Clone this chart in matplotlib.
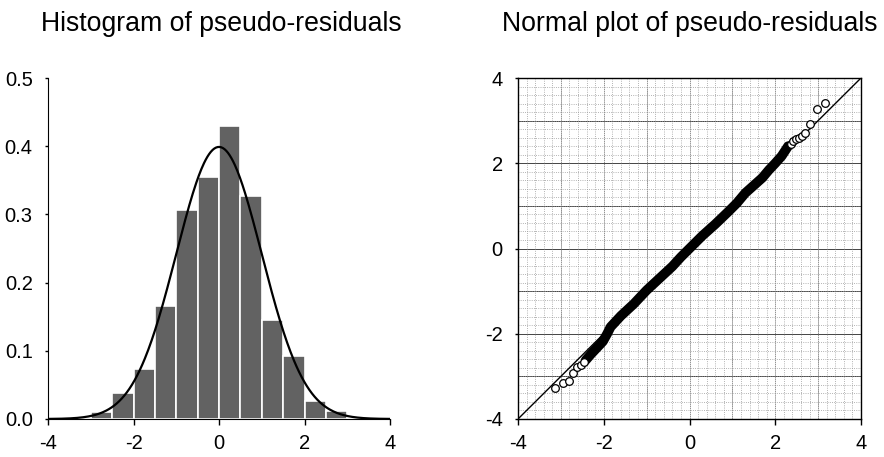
import numpy as np
import matplotlib
matplotlib.use("Agg")
import matplotlib.pyplot as plt
from matplotlib.ticker import MultipleLocator

plt.rcParams['font.family'] = ['Liberation Sans', 'DejaVu Sans']
plt.rcParams['axes.unicode_minus'] = False

# histogram of pseudo-residuals (density scale, bins of width 0.5)
bin_edges = [-3.0, -2.5, -2.0, -1.5, -1.0, -0.5, 0.0, 0.5, 1.0, 1.5, 2.0, 2.5, 3.0]
bin_heights = [0.010, 0.038, 0.073, 0.165, 0.307, 0.355, 0.430, 0.327, 0.145, 0.092, 0.026, 0.011]

# normal plot: dense central band of points
band_x = [-2.42, -2.3, -2.15, -2.02, -1.92, -1.84, -1.6, -1.3, -1.0, -0.7, -0.4, -0.2, 0.0,
          0.3, 0.6, 0.9, 1.1, 1.3, 1.5, 1.7, 1.85, 2.0, 2.15, 2.3]
band_y = [-2.62, -2.48, -2.32, -2.18, -2.0, -1.84, -1.58, -1.3, -0.98, -0.7, -0.42, -0.2, 0.0,
          0.3, 0.57, 0.86, 1.06, 1.3, 1.48, 1.66, 1.84, 2.0, 2.17, 2.4]

# normal plot: individual points visible in the tails
tail_x = [-3.14, -2.94, -2.80, -2.71, -2.63, -2.54, -2.47,
          2.36, 2.42, 2.48, 2.55, 2.62, 2.70, 2.82, 2.97, 3.16]
tail_y = [-3.28, -3.15, -3.12, -2.91, -2.79, -2.73, -2.66,
          2.46, 2.52, 2.56, 2.60, 2.64, 2.70, 2.92, 3.28, 3.42]

fig = plt.figure(figsize=(8.84, 4.57), dpi=100)
ax1 = fig.add_axes([48 / 884, 38 / 457, 342 / 884, 341 / 457])
ax2 = fig.add_axes([518 / 884, 38 / 457, 343 / 884, 341 / 457])

# left: histogram with fitted standard normal density
widths = np.diff(bin_edges)
ax1.bar(bin_edges[:-1], bin_heights, width=widths, align='edge',
        color='#626262', edgecolor='white', linewidth=1.2)
xs = np.linspace(-4, 4, 400)
ax1.plot(xs, np.exp(-xs ** 2 / 2) / np.sqrt(2 * np.pi), color='black', linewidth=1.6)
ax1.set_xlim(-4, 4)
ax1.set_ylim(0, 0.5)
ax1.set_xticks([-4, -2, 0, 2, 4])
ax1.set_yticks([0.0, 0.1, 0.2, 0.3, 0.4, 0.5])
ax1.set_yticklabels(['0.0', '0.1', '0.2', '0.3', '0.4', '0.5'])
ax1.spines['top'].set_visible(False)
ax1.spines['right'].set_visible(False)
ax1.tick_params(axis='x', direction='out', length=4.5, width=1, pad=6, labelsize=14.5)
ax1.tick_params(axis='y', direction='out', length=2, width=1, pad=9, labelsize=14.5)

# right: normal (Q-Q) plot on graph-paper grid
ax2.set_xlim(-4, 4)
ax2.set_ylim(-4, 4)
ax2.xaxis.set_major_locator(MultipleLocator(2))
ax2.yaxis.set_major_locator(MultipleLocator(2))
ax2.xaxis.set_minor_locator(MultipleLocator(0.2))
ax2.yaxis.set_minor_locator(MultipleLocator(0.2))
ax2.grid(which='minor', color='#9a9a9a', linestyle=':', linewidth=0.6)
for v in range(-3, 4):
    ax2.axhline(v, color='#444444', linewidth=0.7, zorder=1)
    ax2.axvline(v, color='#666666', linewidth=0.5, linestyle=(0, (2, 1)), zorder=1)
ax2.axline((0, 0), slope=1, color='black', linewidth=1, zorder=2)
ax2.plot(band_x, band_y, color='black', linewidth=7, solid_capstyle='round', zorder=3)
ax2.plot(tail_x, tail_y, linestyle='none', marker='o', markersize=5.5,
         markerfacecolor='white', markeredgecolor='black', markeredgewidth=0.9, zorder=3)
ax2.tick_params(which='minor', length=0)
ax2.tick_params(axis='x', which='major', direction='out', length=4.5, width=1, pad=6, labelsize=14.5)
ax2.tick_params(axis='y', which='major', direction='out', length=2, width=1, pad=9, labelsize=14.5)
for s in ax2.spines.values():
    s.set_linewidth(1)

fig.text(221 / 884, 1 - 31 / 457, 'Histogram of pseudo-residuals', ha='center', va='baseline', fontsize=19.2)
fig.text(690 / 884, 1 - 31 / 457, 'Normal plot of pseudo-residuals', ha='center', va='baseline', fontsize=19.2)

fig.savefig('out.png', dpi=100)
